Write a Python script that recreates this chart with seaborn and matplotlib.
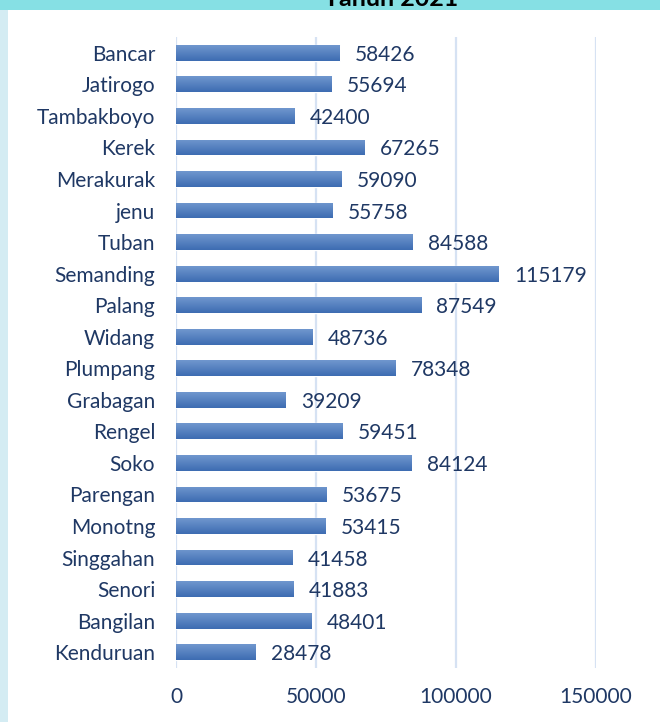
import numpy as np
import pandas as pd
import seaborn as sns
import matplotlib.pyplot as plt
from matplotlib.patches import Rectangle
from matplotlib.colors import LinearSegmentedColormap

# data kecamatan
kecamatan = ['Bancar', 'Jatirogo', 'Tambakboyo', 'Kerek', 'Merakurak', 'jenu', 'Tuban',
             'Semanding', 'Palang', 'Widang', 'Plumpang', 'Grabagan', 'Rengel', 'Soko',
             'Parengan', 'Monotng', 'Singgahan', 'Senori', 'Bangilan', 'Kenduruan']
jumlah = [58426, 55694, 42400, 67265, 59090, 55758, 84588, 115179, 87549, 48736,
          78348, 39209, 59451, 84124, 53675, 53415, 41458, 41883, 48401, 28478]
x_ticks = [0, 50000, 100000, 150000]

df = pd.DataFrame({'kecamatan': kecamatan, 'jumlah': jumlah})

sns.set_style('white')
plt.rcParams['font.family'] = ['Lato', 'DejaVu Sans']
teks = '#1F3864'

fig = plt.figure(figsize=(6.6, 7.22), dpi=100)
fig.patch.set_facecolor('white')
# latar slide
fig.add_artist(Rectangle((0, 1 - 10/722), 1, 10/722, transform=fig.transFigure,
                         facecolor='#86E0E4', edgecolor='none', zorder=0))
fig.add_artist(Rectangle((0, 0), 8/660, 1 - 10/722, transform=fig.transFigure,
                         facecolor='#D4ECF3', edgecolor='none', zorder=0))
fig.text(0.592, 1 - 6/722, 'Tahun 2021', ha='center', va='baseline', fontsize=18,
         fontweight='bold', color='black')

ax = fig.add_axes([176/660, 1 - 668/722, 420/660, 631/722])
sns.barplot(data=df, y='kecamatan', x='jumlah', color='#4F7CC0', saturation=1,
            width=0.5, ax=ax, zorder=3)

# gradasi pada batang
grad = LinearSegmentedColormap.from_list('g', ['#3D6CB2', '#7097CE'])
for bar in ax.containers[0]:
    x0, y0 = bar.get_x(), bar.get_y()
    w, h = bar.get_width(), bar.get_height()
    im = ax.imshow(np.linspace(0, 1, 50).reshape(-1, 1), cmap=grad, aspect='auto',
                   extent=[x0, x0 + w, y0, y0 + h], zorder=4, interpolation='bilinear')
    im.set_clip_path(bar)

labels = ax.bar_label(ax.containers[0], labels=[str(v) for v in jumlah], padding=11,
                      fontsize=15, color=teks)
for t in labels:
    t.set_va('center_baseline')

ax.set_xlim(0, 150000)
ax.set_ylim(len(kecamatan) - 0.5, -0.5)
ax.set_xticks(x_ticks)
ax.set_xticklabels([str(t) for t in x_ticks])
ax.grid(axis='x', color='#D6E2F3', linewidth=1.6, zorder=0)
ax.set_xlabel('')
ax.set_ylabel('')
for s in ax.spines.values():
    s.set_visible(False)
ax.tick_params(axis='both', length=0, labelsize=15, labelcolor=teks)
ax.tick_params(axis='x', pad=14)
ax.tick_params(axis='y', pad=15)

fig.savefig('out.png', dpi=100, facecolor=fig.get_facecolor())
